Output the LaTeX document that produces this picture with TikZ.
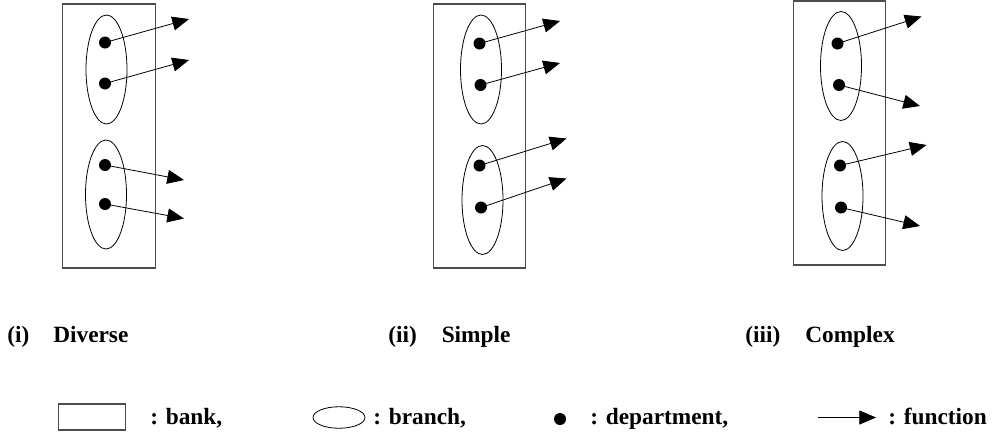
\documentclass[tikz,border=0pt]{standalone}
\usepackage{fontspec}
\setmainfont{Liberation Serif}
\usetikzlibrary{arrows.meta,shapes.geometric}
\begin{document}
\begin{tikzpicture}[x=0.75pt,y=-0.75pt,
  bankbox/.style={draw=black!70,line width=0.9pt,inner sep=0pt,minimum width=92.5*0.75pt,minimum height=264*0.75pt},
  branchell/.style={draw,ellipse,line width=0.6pt,inner sep=0pt,minimum width=41*0.75pt,minimum height=109*0.75pt},
  dept/.style={circle,fill=black,inner sep=0pt,minimum size=9pt},
  func/.style={line width=0.6pt,-{Triangle[length=12.5pt,width=10.5pt]}},
  lbl/.style={anchor=base west,inner sep=0pt,font=\fontsize{17.5}{20}\selectfont\bfseries}]
\useasboundingbox (0,0) rectangle (1002,436);

% ---------- panel (i) ----------
\node[bankbox] (bankA) at (109,136) {};
\node[branchell] (brA1) at (106.5,69.5) {};
\node[branchell] (brA2) at (106,194.5) {};
\node[dept] (dA1) at (105,42.5) {};
\node[dept] (dA2) at (105,83.5) {};
\node[dept] (dA3) at (105,165) {};
\node[dept] (dA4) at (105,204) {};
\coordinate (tA1) at (189,19);
\coordinate (tA2) at (189,60);
\coordinate (tA3) at (184,180);
\coordinate (tA4) at (184,218.5);
\draw[func] (dA1.center) -- (tA1);
\draw[func] (dA2.center) -- (tA2);
\draw[func] (dA3.center) -- (tA3);
\draw[func] (dA4.center) -- (tA4);

% ---------- panel (ii) ----------
\node[bankbox] (bankB) at (479.5,136) {};
\node[branchell] (brB1) at (481,69.5) {};
\node[branchell] (brB2) at (482.5,200) {};
\node[dept] (dB1) at (479.5,43.5) {};
\node[dept] (dB2) at (480.5,85) {};
\node[dept] (dB3) at (479.5,165.5) {};
\node[dept] (dB4) at (481,207.5) {};
\coordinate (tB1) at (560,21);
\coordinate (tB2) at (560,63);
\coordinate (tB3) at (566.5,138.5);
\coordinate (tB4) at (566.5,178.5);
\draw[func] (dB1.center) -- (tB1);
\draw[func] (dB2.center) -- (tB2);
\draw[func] (dB3.center) -- (tB3);
\draw[func] (dB4.center) -- (tB4);

% ---------- panel (iii) ----------
\node[bankbox] (bankC) at (839.5,133) {};
\node[branchell] (brC1) at (841,66) {};
\node[branchell] (brC2) at (842.5,196) {};
\node[dept] (dC1) at (837.5,43.5) {};
\node[dept] (dC2) at (839,85) {};
\node[dept] (dC3) at (840,165.5) {};
\node[dept] (dC4) at (841,207.5) {};
\coordinate (tC1) at (921.5,16.5);
\coordinate (tC2) at (920,106);
\coordinate (tC3) at (926.5,145);
\coordinate (tC4) at (920,226);
\draw[func] (dC1.center) -- (tC1);
\draw[func] (dC2.center) -- (tC2);
\draw[func] (dC3.center) -- (tC3);
\draw[func] (dC4.center) -- (tC4);

% ---------- captions ----------
\node[lbl] (capAi) at (7,342.5) {(i)};
\node[lbl] (capAt) at (53,342.5) {Diverse};
\node[lbl] (capBi) at (388,342.5) {(ii)};
\node[lbl] (capBt) at (441.5,342.5) {Simple};
\node[lbl] (capCi) at (745,342.5) {(iii)};
\node[lbl] (capCt) at (805,342.5) {Complex};

% ---------- legend ----------
\node[draw=black!70,line width=0.9pt,inner sep=0pt,minimum width=67.5*0.75pt,minimum height=26*0.75pt] (legBank) at (92,417) {};
\node[lbl] (legBankT) at (150,424.5) {: bank,};
\node[draw,ellipse,line width=0.6pt,inner sep=0pt,minimum width=52*0.75pt,minimum height=21.5*0.75pt] (legBranch) at (339,417.5) {};
\node[lbl] (legBranchT) at (373,424.5) {: branch,};
\node[dept] (legDept) at (560,419) {};
\node[lbl] (legDeptT) at (590,424.5) {: department,};
\coordinate (legFs) at (818,417.5);
\coordinate (legFe) at (876,417.5);
\draw[func] (legFs) -- (legFe);
\node[lbl] (legFuncT) at (888,424.5) {: function};
\end{tikzpicture}
\end{document}
